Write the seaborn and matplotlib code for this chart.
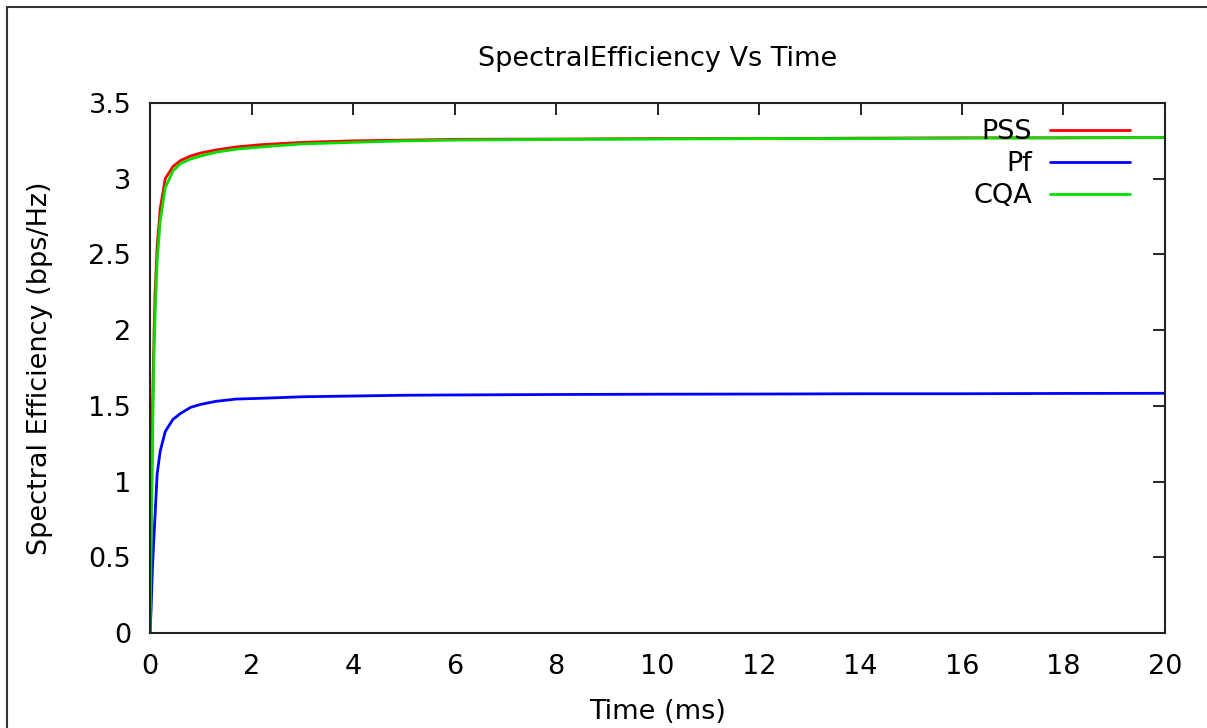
import numpy as np
import pandas as pd
import matplotlib
matplotlib.use("Agg")
import matplotlib.pyplot as plt
import seaborn as sns
from matplotlib.patches import Rectangle

# time axis (ms) and spectral efficiency
time_ms = [0, 0.02, 0.05, 0.08, 0.1, 0.14, 0.2, 0.3, 0.45, 0.6, 0.8, 1.0, 1.3, 1.7,
           2.2, 3, 4, 5, 6, 8, 10, 12, 14, 16, 18, 20]
pss = [0, 0.6, 1.5, 2.0, 2.25, 2.55, 2.8, 3.0, 3.08, 3.12, 3.15, 3.17, 3.19, 3.21,
       3.225, 3.24, 3.25, 3.255, 3.26, 3.262, 3.265, 3.265, 3.268, 3.27, 3.27, 3.272]
pf = [0, 0.15, 0.45, 0.65, 0.78, 1.05, 1.2, 1.33, 1.41, 1.45, 1.49, 1.51, 1.53, 1.545,
      1.55, 1.56, 1.565, 1.57, 1.572, 1.575, 1.577, 1.578, 1.58, 1.58, 1.582, 1.583]
cqa = [0, 0.5, 1.3, 1.85, 2.1, 2.45, 2.72, 2.94, 3.05, 3.1, 3.13, 3.15, 3.175, 3.195,
       3.21, 3.23, 3.24, 3.25, 3.255, 3.26, 3.262, 3.265, 3.265, 3.268, 3.27, 3.272]
series_names = ["PSS", "Pf", "CQA"]
colors = {"PSS": "#ff0000", "Pf": "#0000ff", "CQA": "#00e000"}

sns.set_theme(style="white")
plt.rcParams["font.family"] = ["DejaVu Sans"]
plt.rcParams["text.color"] = "black"
plt.rcParams["axes.labelcolor"] = "black"
FS = 19.5

df = pd.DataFrame({
    "Time": time_ms * 3,
    "SE": pss + pf + cqa,
    "Scheme": [n for n, vals in zip(series_names, [pss, pf, cqa]) for _ in vals],
})

fig = plt.figure(figsize=(12.07, 7.28), dpi=100)
ax = fig.add_axes([0.1243, 0.1305, 0.9652 - 0.1243, 0.8585 - 0.1305])

sns.lineplot(data=df, x="Time", y="SE", hue="Scheme", hue_order=series_names,
             palette=colors, linewidth=2, ax=ax, estimator=None, sort=True)

ax.set_xlim(0, 20)
ax.set_ylim(0, 3.5)
ax.set_xticks(np.arange(0, 21, 2))
ax.set_yticks(np.arange(0, 3.6, 0.5))
ax.set_yticklabels(["0", "0.5", "1", "1.5", "2", "2.5", "3", "3.5"])
ax.tick_params(direction="in", length=8.5, width=1.2, top=True, right=True,
               labelsize=FS, colors="black")
ax.tick_params(axis="x", pad=15)
ax.tick_params(axis="y", pad=13.5)
for s in ax.spines.values():
    s.set_linewidth(1.5)
    s.set_color("#222222")

ax.set_title("SpectralEfficiency Vs Time", fontsize=FS, pad=26.5, color="black")
ax.set_xlabel("Time (ms)", fontsize=FS, labelpad=14)
ax.set_ylabel("Spectral Efficiency (bps/Hz)", fontsize=FS, labelpad=25.5)

handles, labels = ax.get_legend_handles_labels()
ax.legend(handles, labels, loc="upper right", bbox_to_anchor=(0.9655, 0.969),
          frameon=False, markerfirst=False, handlelength=2.95, handletextpad=0.67,
          labelspacing=0.22, borderpad=0, borderaxespad=0, fontsize=FS)

# outer frame around the figure
fig.add_artist(Rectangle((7 / 1207, -0.05), 1.2, 1.05 - 7 / 728,
                         transform=fig.transFigure, fill=False,
                         edgecolor="#333333", linewidth=1.5))

fig.savefig("out.png", dpi=100)
